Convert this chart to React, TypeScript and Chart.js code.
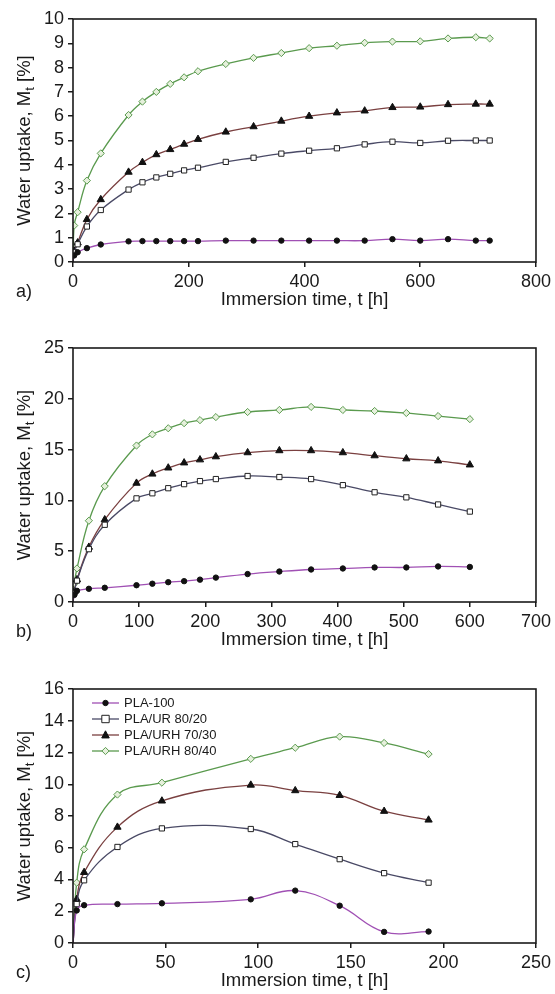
import React, { useEffect, useRef } from "react";
import { Chart, registerables } from "chart.js";
Chart.register(...registerables);

const FONT = '"Liberation Sans", Arial, sans-serif';

const seriesNames = ["PLA-100", "PLA/UR 80/20", "PLA/URH 70/30", "PLA/URH 80/40"];

// Panel a)
const timesA = [0, 2, 8, 24, 48, 96, 120, 144, 168, 192, 216, 264, 312, 360, 408, 456, 504, 552, 600, 648, 696, 720];
const pla100A = [0, 0.27, 0.4, 0.57, 0.72, 0.85, 0.86, 0.86, 0.86, 0.86, 0.86, 0.88, 0.88, 0.88, 0.88, 0.88, 0.88, 0.94, 0.88, 0.94, 0.88, 0.88];
const ur8020A = [0, 0.4, 0.73, 1.46, 2.14, 2.98, 3.28, 3.48, 3.63, 3.77, 3.88, 4.12, 4.29, 4.46, 4.58, 4.68, 4.84, 4.95, 4.9, 4.99, 5.0, 5.0];
const urh7030A = [0, 0.45, 0.79, 1.75, 2.57, 3.7, 4.1, 4.42, 4.63, 4.85, 5.05, 5.35, 5.57, 5.8, 6.0, 6.14, 6.22, 6.36, 6.38, 6.48, 6.5, 6.5];
const urh8040A = [0, 1.5, 2.05, 3.35, 4.47, 6.05, 6.6, 7.0, 7.33, 7.6, 7.85, 8.15, 8.4, 8.6, 8.8, 8.9, 9.02, 9.07, 9.08, 9.2, 9.25, 9.2];

// Panel b)
const timesB = [0, 2, 6, 24, 48, 96, 120, 144, 168, 192, 216, 264, 312, 360, 408, 456, 504, 552, 600];
const pla100B = [0, 0.7, 1.1, 1.3, 1.4, 1.65, 1.8, 1.95, 2.05, 2.2, 2.4, 2.75, 3.0, 3.2, 3.3, 3.4, 3.4, 3.5, 3.45];
const ur8020B = [0, 0.9, 2.1, 5.2, 7.6, 10.2, 10.7, 11.2, 11.6, 11.9, 12.1, 12.4, 12.3, 12.1, 11.5, 10.8, 10.3, 9.6, 8.9];
const urh7030B = [0, 1.0, 2.2, 5.4, 8.1, 11.7, 12.6, 13.2, 13.7, 14.0, 14.3, 14.7, 14.9, 14.9, 14.7, 14.4, 14.1, 13.9, 13.5];
const urh8040B = [0, 1.8, 3.3, 8.0, 11.4, 15.4, 16.5, 17.1, 17.6, 17.9, 18.2, 18.7, 18.9, 19.2, 18.9, 18.8, 18.6, 18.3, 18.0];

// Panel c)
const timesC = [0, 2, 6, 24, 48, 96, 120, 144, 168, 192];
const pla100C = [0, 2.05, 2.38, 2.45, 2.5, 2.75, 3.3, 2.35, 0.7, 0.72];
const ur8020C = [0, 2.45, 3.95, 6.05, 7.22, 7.18, 6.23, 5.28, 4.4, 3.8];
const urh7030C = [0, 2.75, 4.45, 7.3, 8.95, 9.95, 9.6, 9.3, 8.3, 7.75];
const urh8040C = [0, 3.8, 5.9, 9.35, 10.1, 11.6, 12.3, 13.0, 12.6, 11.9];

const styles = [
  { line: "#a050b4", fill: "#111111", border: "#111111", shape: "circle", r: 2.7 },
  { line: "#4a4a66", fill: "#ffffff", border: "#222222", shape: "rect", r: 3.7 },
  { line: "#7a4040", fill: "#111111", border: "#111111", shape: "triangle", r: 4.2 },
  { line: "#5a9a4e", fill: "#e6f0dc", border: "#5a9a4e", shape: "rectRot", r: 3.6 },
];

function drawMarker(ctx, shape, x, y, r, fill, stroke) {
  ctx.save();
  ctx.fillStyle = fill;
  ctx.strokeStyle = stroke;
  ctx.lineWidth = 1;
  ctx.beginPath();
  if (shape === "circle") {
    ctx.arc(x, y, r, 0, Math.PI * 2);
  } else if (shape === "rect") {
    ctx.rect(x - r, y - r, 2 * r, 2 * r);
  } else if (shape === "triangle") {
    ctx.moveTo(x, y - r);
    ctx.lineTo(x + r * 0.9, y + r * 0.7);
    ctx.lineTo(x - r * 0.9, y + r * 0.7);
    ctx.closePath();
  } else {
    ctx.moveTo(x, y - r);
    ctx.lineTo(x + r, y);
    ctx.lineTo(x, y + r);
    ctx.lineTo(x - r, y);
    ctx.closePath();
  }
  ctx.fill();
  ctx.stroke();
  ctx.restore();
}

const decorPlugin = {
  id: "decor",
  afterDraw(chart, _args, opts) {
    const { ctx, chartArea: a } = chart;
    ctx.save();
    ctx.strokeStyle = "#1a1a1a";
    ctx.lineWidth = 1.6;
    ctx.strokeRect(a.left, a.top, a.right - a.left, a.bottom - a.top);

    ctx.fillStyle = "#1a1a1a";
    ctx.font = `18.5px ${FONT}`;
    ctx.textAlign = "center";
    ctx.textBaseline = "middle";
    ctx.fillText("Immersion time, t [h]", (a.left + a.right) / 2, a.bottom + 38);
    ctx.textAlign = "left";
    ctx.font = `18px ${FONT}`;
    ctx.fillText(opts.letter, 16, a.bottom + 30);

    // y title with subscript
    ctx.save();
    ctx.translate(23, (a.top + a.bottom) / 2);
    ctx.rotate(-Math.PI / 2);
    ctx.textBaseline = "alphabetic";
    const p1 = "Water uptake, M";
    const p2 = "t";
    const p3 = " [%]";
    ctx.font = `18.5px ${FONT}`;
    const w1 = ctx.measureText(p1).width;
    const w3 = ctx.measureText(p3).width;
    ctx.font = `13px ${FONT}`;
    const w2 = ctx.measureText(p2).width;
    let x = -(w1 + w2 + w3) / 2;
    ctx.font = `18.5px ${FONT}`;
    ctx.fillText(p1, x, 7);
    x += w1;
    ctx.font = `13px ${FONT}`;
    ctx.fillText(p2, x, 11);
    x += w2;
    ctx.font = `18.5px ${FONT}`;
    ctx.fillText(p3, x, 7);
    ctx.restore();

    if (opts.legend) {
      ctx.font = `13px ${FONT}`;
      ctx.textAlign = "left";
      ctx.textBaseline = "middle";
      seriesNames.forEach((name, i) => {
        const s = styles[i];
        const y = a.top + 14 + i * 16;
        const x0 = a.left + 19;
        const x1 = a.left + 46;
        ctx.strokeStyle = s.line;
        ctx.lineWidth = 1.3;
        ctx.beginPath();
        ctx.moveTo(x0, y);
        ctx.lineTo(x1, y);
        ctx.stroke();
        drawMarker(ctx, s.shape, (x0 + x1) / 2, y, s.r, s.fill, s.border);
        ctx.fillStyle = "#1a1a1a";
        ctx.fillText(name, a.left + 51, y + 0.5);
      });
    }
    ctx.restore();
  },
};

function Panel({ times, series, xMax, xStep, yMax, yStep, letter, legend, top, height, padTop, padBottom }) {
  const ref = useRef(null);
  useEffect(() => {
    const datasets = series.map((vals, i) => {
      const s = styles[i];
      return {
        label: seriesNames[i],
        data: times.map((t, j) => ({ x: t, y: vals[j] })),
        borderColor: s.line,
        borderWidth: 1.3,
        backgroundColor: s.fill,
        pointBackgroundColor: s.fill,
        pointBorderColor: s.border,
        pointBorderWidth: 1,
        pointStyle: s.shape,
        pointRadius: (c) => (c.raw && c.raw.x === 0 ? 0 : s.r),
        tension: 0.4,
        fill: false,
      };
    });
    const axisFont = { family: FONT, size: 18 };
    const chart = new Chart(ref.current, {
      type: "line",
      data: { datasets },
      options: {
        animation: false,
        responsive: false,
        devicePixelRatio: 1,
        layout: { padding: { top: padTop, bottom: padBottom, left: 0, right: 17 } },
        plugins: {
          legend: { display: false },
          tooltip: { enabled: false },
          decor: { letter, legend },
        },
        scales: {
          x: {
            type: "linear",
            min: 0,
            max: xMax,
            ticks: { stepSize: xStep, autoSkip: false, font: axisFont, color: "#1a1a1a", padding: 4, maxRotation: 0 },
            grid: { drawOnChartArea: false, drawTicks: true, tickLength: 5, color: "#1a1a1a", lineWidth: 1.5 },
            border: { display: false },
            afterFit: (sc) => {
              sc.height = 30;
            },
          },
          y: {
            type: "linear",
            min: 0,
            max: yMax,
            ticks: { stepSize: yStep, autoSkip: false, font: axisFont, color: "#1a1a1a", padding: 4 },
            grid: { drawOnChartArea: false, drawTicks: true, tickLength: 5, color: "#1a1a1a", lineWidth: 1.5 },
            border: { display: false },
            afterFit: (sc) => {
              sc.width = 73;
            },
          },
        },
      },
      plugins: [decorPlugin],
    });
    return () => chart.destroy();
  }, []);
  return (
    <canvas
      ref={ref}
      width={555}
      height={height}
      style={{ position: "absolute", left: 0, top, width: 555, height }}
    />
  );
}

export default function App() {
  return (
    <div style={{ position: "absolute", left: 0, top: 0, width: 555, height: 994, background: "#ffffff" }}>
      <Panel
        times={timesA}
        series={[pla100A, ur8020A, urh7030A, urh8040A]}
        xMax={800}
        xStep={200}
        yMax={10}
        yStep={1}
        letter="a)"
        legend={false}
        top={0}
        height={320}
        padTop={19}
        padBottom={28}
      />
      <Panel
        times={timesB}
        series={[pla100B, ur8020B, urh7030B, urh8040B]}
        xMax={700}
        xStep={100}
        yMax={25}
        yStep={5}
        letter="b)"
        legend={false}
        top={320}
        height={330}
        padTop={28}
        padBottom={18}
      />
      <Panel
        times={timesC}
        series={[pla100C, ur8020C, urh7030C, urh8040C]}
        xMax={250}
        xStep={50}
        yMax={16}
        yStep={2}
        letter="c)"
        legend={true}
        top={650}
        height={344}
        padTop={39}
        padBottom={21}
      />
    </div>
  );
}
